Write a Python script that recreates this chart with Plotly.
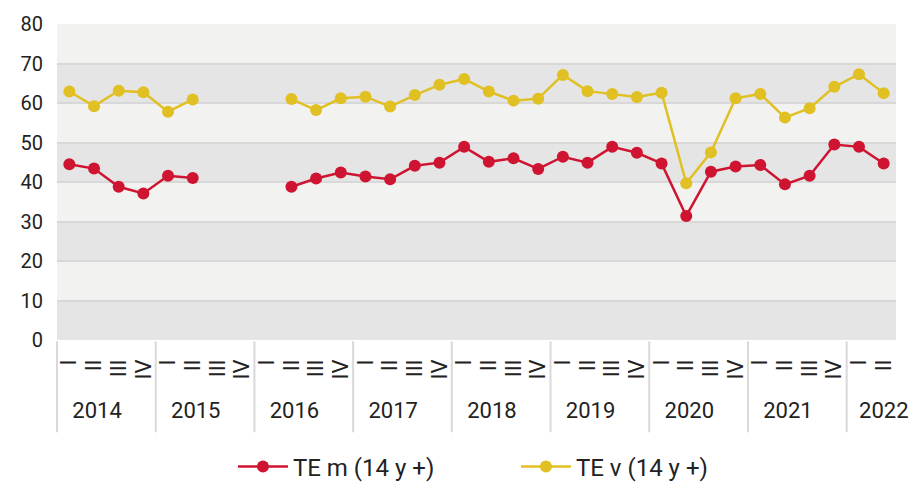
import plotly.graph_objects as go

years = ["2014"] * 4 + ["2015"] * 4 + ["2016"] * 4 + ["2017"] * 4 + ["2018"] * 4 + \
        ["2019"] * 4 + ["2020"] * 4 + ["2021"] * 4 + ["2022"] * 2
quarters = (["I", "II", "III", "IV"] * 9)[:34]

te_m = [44.5, 43.4, 38.8, 37.1, 41.6, 41.0, None, None, None, 38.8, 40.9, 42.4,
        41.4, 40.7, 44.1, 44.9, 48.9, 45.1, 46.0, 43.3, 46.4, 44.9, 48.9, 47.4,
        44.7, 31.4, 42.6, 43.9, 44.3, 39.4, 41.6, 49.5, 48.9, 44.7]
te_v = [62.9, 59.2, 63.1, 62.7, 57.8, 60.9, None, None, None, 61.0, 58.2, 61.2,
        61.6, 59.1, 62.0, 64.6, 66.1, 62.9, 60.6, 61.1, 67.1, 63.0, 62.3, 61.5,
        62.6, 39.7, 47.5, 61.2, 62.3, 56.3, 58.7, 64.1, 67.3, 62.5]

series_names = ["TE m (14 y +)", "TE v (14 y +)"]
y_ticks = [0, 10, 20, 30, 40, 50, 60, 70, 80]

RED = "#cf1431"
YEL = "#e0c022"
FONT = "Roboto"
TXT = "#222222"
NB = "\u00a0"

# display labels: invisible padding to nudge label placement like the original
q_disp = [NB * 2 + q for q in quarters]
last_year = years[-1]
y_disp = [(NB * 6 + y) if y == last_year else (y + NB * 2) for y in years]

fig = go.Figure()
for name, vals, col in [(series_names[0], te_m, RED), (series_names[1], te_v, YEL)]:
    fig.add_trace(go.Scatter(
        x=[y_disp, q_disp], y=vals, name=name, mode="lines+markers",
        line=dict(color=col, width=2.5), marker=dict(color=col, size=12),
        connectgaps=False,
    ))

shapes = []
for i in range(len(y_ticks) - 1):
    lo, hi = y_ticks[i], y_ticks[i + 1]
    dark = (i % 2 == 0)
    shapes.append(dict(type="rect", xref="paper", yref="y", x0=0, x1=1, y0=lo, y1=hi,
                       fillcolor="#e5e5e5" if dark else "#f2f2f0", line_width=0,
                       layer="below"))

n = len(quarters)
# year group dividers (start of each year group)
for k in range(n):
    if k == 0 or years[k] != years[k - 1]:
        shapes.append(dict(type="line", xref="paper", yref="paper",
                           x0=k / n, x1=k / n, y0=-0.004, y1=-0.292,
                           line=dict(color="#d9d9d9", width=2)))

fig.update_layout(
    width=910, height=485,
    margin=dict(l=57, r=14, t=24, b=145),
    paper_bgcolor="white", plot_bgcolor="white",
    font=dict(family=FONT, size=20, color=TXT),
    shapes=shapes,
    showlegend=True,
    legend=dict(orientation="h", xref="container", yref="container",
                x=0.256, xanchor="left", y=1 - 467 / 485, yanchor="middle",
                itemwidth=50, font=dict(size=24), entrywidth=218, traceorder="normal"),
    xaxis=dict(type="multicategory", showgrid=False, tickangle=-90,
               range=[-0.5, n - 0.5], dtick=1, automargin=False,
               ticklabelstandoff=14, showdividers=False,
               showline=False, zeroline=False, tickfont=dict(size=22)),
    yaxis=dict(range=[0, 80], tickvals=y_ticks, showgrid=True, gridcolor="#d8d8d8",
               gridwidth=2, zeroline=False, ticks="outside", ticklen=9,
               automargin=False,
               tickcolor="rgba(0,0,0,0)", tickfont=dict(size=20)),
)

fig.write_html("out.html", config={"displayModeBar": False},
               post_script="document.body.style.margin='0';")
